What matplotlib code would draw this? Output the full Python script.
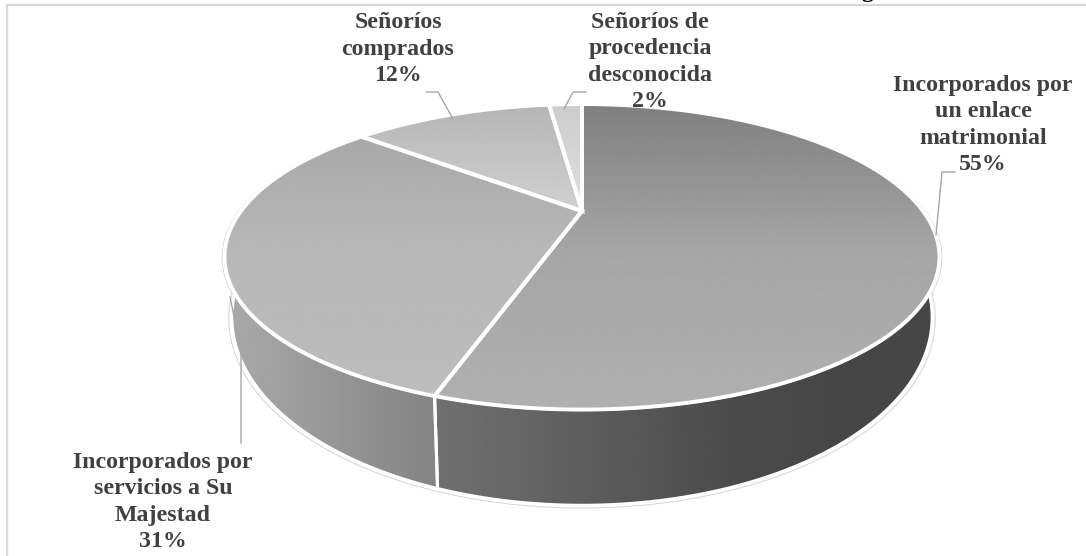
import numpy as np
import matplotlib
matplotlib.use("Agg")
import matplotlib.pyplot as plt
from matplotlib.patches import Polygon

# slices, clockwise from 12 o'clock
shares = [55, 31, 12, 2]
label_text = ["Incorporados por\nun enlace\nmatrimonial\n55%",
              "Incorporados por\nservicios a Su\nMajestad\n31%",
              "Señoríos\ncomprados\n12%",
              "Señoríos de\nprocedencia\ndesconocida\n2%"]
label_pos = [(983, 125), (163, 502), (398, 49), (650, 62)]

# grey stops (pixel y, level) for the top face of each slice
top_stops = [([104, 250, 410], [0.50, 0.65, 0.69]),
             ([136, 250, 400], [0.66, 0.72, 0.74]),
             ([106, 211], [0.71, 0.82]),
             ([105, 211], [0.80, 0.88])]
# grey stops (pixel x, level) for the side walls
wall_stops = [([437, 740, 840], [0.44, 0.29, 0.275]),
              ([232, 430], [0.66, 0.52])]
wall_range = [(95, 198), (198, 260)]

leaders = [([955, 942, 936], [172, 172, 235]),
           ([241, 241, 230], [443, 350, 297]),
           ([426, 438, 453], [92, 92, 119]),
           ([586, 573, 564], [92, 92, 109])]

K = 0.30  # perspective strength
TOP = (582, 211, 341, 139)
BOTTOM = (582, 261, 334, 171)


def project(theta, disc, r=1.0):
    cx, cy, a, b = disc
    u = r * np.sin(np.radians(theta))
    v = r * np.cos(np.radians(theta))
    w = 1 + K * v
    return cx + a * u / w, cy - b * v / w


def gradient_fill(ax, xs, ys, stops, along_x, zorder):
    poly = Polygon(np.column_stack([xs, ys]), closed=True, fc="none", ec="none", zorder=zorder)
    ax.add_patch(poly)
    x0, x1, y0, y1 = min(xs), max(xs), min(ys), max(ys)
    if along_x:
        grid = np.interp(np.linspace(x0, x1, 256), *stops)[np.newaxis, :]
    else:
        grid = np.interp(np.linspace(y0, y1, 256), *stops)[:, np.newaxis]
    im = ax.imshow(grid, extent=(x0, x1, y1, y0), cmap="gray", vmin=0, vmax=1,
                   aspect="auto", interpolation="bilinear", zorder=zorder)
    im.set_clip_path(poly)


fig = plt.figure(figsize=(10.86, 5.56), dpi=100)
ax = fig.add_axes([0, 0, 1, 1])

# thin outline round the whole pie
t = np.linspace(0, 360, 361)
ax.plot(*project(t, TOP, 1.006), color="#d4d4d4", lw=0.7, zorder=1)
ax.plot(*project(t, BOTTOM, 1.008), color="#d4d4d4", lw=0.7, zorder=1)

# side walls
for (start, end), stops in zip(wall_range, wall_stops):
    t = np.linspace(start, end, 120)
    tx, ty = project(t, TOP)
    bx, by = project(t[::-1], BOTTOM)
    xs = np.concatenate([tx, bx])
    ys = np.concatenate([ty, by])
    gradient_fill(ax, xs, ys, stops, True, 2)
    ax.add_patch(Polygon(np.column_stack([xs, ys]), closed=True, fc="none", ec="white", lw=2.2, zorder=3))

# top face
edges = np.cumsum([0] + shares) * 3.6
for i, stops in enumerate(top_stops):
    t = np.linspace(edges[i], edges[i + 1], 200)
    ax_x, ax_y = project(t, TOP)
    xs = np.concatenate([[TOP[0]], ax_x])
    ys = np.concatenate([[TOP[1]], ax_y])
    gradient_fill(ax, xs, ys, stops, False, 4)
    ax.add_patch(Polygon(np.column_stack([xs, ys]), closed=True, fc="none", ec="white", lw=2.8, zorder=5))

for xs, ys in leaders:
    ax.plot(xs, ys, color="#a6a6a6", lw=1.0, zorder=6)

for txt, (x, y) in zip(label_text, label_pos):
    ax.text(x, y, txt, ha="center", va="center", family="Liberation Serif",
            fontweight="bold", fontsize=17.2, color="#404040", linespacing=1.32, zorder=7)

# chart frame, only top and left show
ax.plot([6.5, 6.5, 1086], [556, 4.5, 4.5], color="#d9d9d9", lw=1.6, zorder=1)
# tail of the cut off title above the frame
ax.text(867, -3, "g", ha="center", va="baseline", family="Liberation Serif",
        fontweight="bold", fontsize=17, color="black", zorder=7)

ax.set_xlim(0, 1086)
ax.set_ylim(556, 0)
ax.axis("off")

fig.savefig("out.png", dpi=100, facecolor="white")
